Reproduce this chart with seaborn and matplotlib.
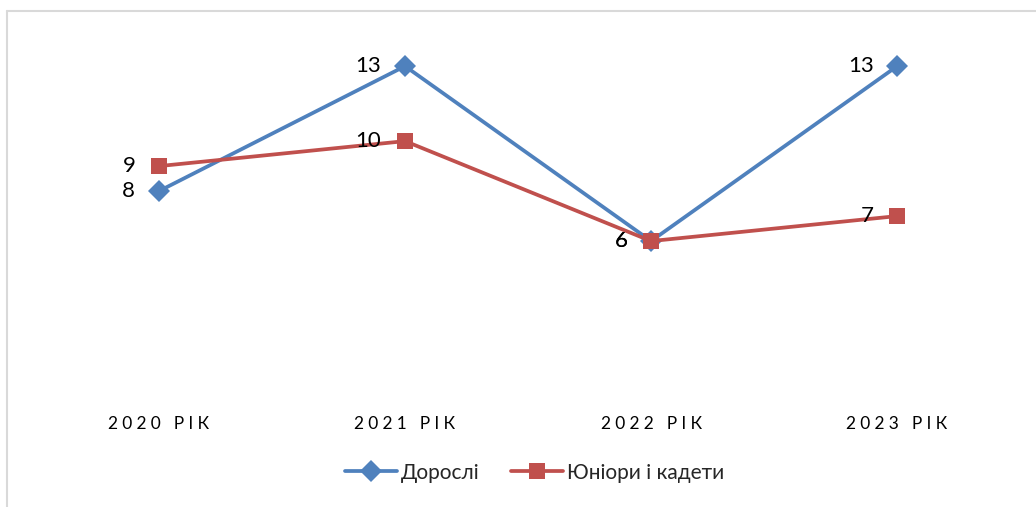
import matplotlib
matplotlib.use("Agg")
import matplotlib.pyplot as plt
import seaborn as sns
import pandas as pd
from matplotlib.lines import Line2D

years = ["2020 РІК", "2021 РІК", "2022 РІК", "2023 РІК"]
adults = [8, 13, 6, 13]
juniors = [9, 10, 6, 7]
series_names = ["Дорослі", "Юніори і кадети"]
colors = ["#4F81BD", "#C0504D"]

sns.set_theme(style="white")
plt.rcParams["font.family"] = ["Lato", "DejaVu Sans"]

df = pd.DataFrame({
    "year": years * 2,
    "value": adults + juniors,
    "series": [series_names[0]] * 4 + [series_names[1]] * 4,
})

fig = plt.figure(figsize=(10.36, 5.07), dpi=100)
ax = fig.add_axes([0.0347, 0.2288, 0.95, 0.690])

sns.lineplot(data=df, x="year", y="value", hue="series", style="series",
             palette=dict(zip(series_names, colors)),
             markers={series_names[0]: "D", series_names[1]: "s"},
             dashes=False, sort=False, linewidth=2.7, markersize=11,
             markeredgewidth=0, ax=ax, legend=False)
for ln, ms in zip(ax.get_lines(), [11, 12]):
    ln.set_markersize(ms)

ax.set_xlim(-0.5, 3.5)
ax.set_ylim(0, 14)
for s in ax.spines.values():
    s.set_visible(False)
ax.set_yticks([])
ax.set_xlabel("")
ax.set_ylabel("")

def spaced(t):
    return "\u2009\u2009".join(list(t))

ax.set_xticks(range(len(years)))
ax.set_xticklabels([spaced(y) for y in years], fontsize=12.5, color="#000000",
                   family=["Lato", "DejaVu Sans"])
ax.tick_params(axis="x", length=0, pad=18)

for vals in (adults, juniors):
    for i, v in enumerate(vals):
        ax.annotate(str(v), (i, v), xytext=(-17, 0), textcoords="offset points",
                    ha="right", va="center", fontsize=16, color="#000000")

handles = [Line2D([], [], color=c, marker=m, markersize=ms, linewidth=2.7, markeredgewidth=0)
           for c, m, ms in zip(colors, ["D", "s"], [11, 12])]
fig.legend(handles, series_names, loc="center", bbox_to_anchor=(0.516, 0.068),
           ncol=2, frameon=False, fontsize=15, handlelength=2.5,
           handletextpad=0.2, columnspacing=1.5)

# chart frame (top and left edges visible)
fig.add_artist(Line2D([0.0063, 0.0063], [0, 0.979], transform=fig.transFigure,
                      color="#d9d9d9", linewidth=1.5))
fig.add_artist(Line2D([0.0063, 1.0], [0.979, 0.979], transform=fig.transFigure,
                      color="#d9d9d9", linewidth=1.5))

fig.savefig("out.png", dpi=100, facecolor="white")
